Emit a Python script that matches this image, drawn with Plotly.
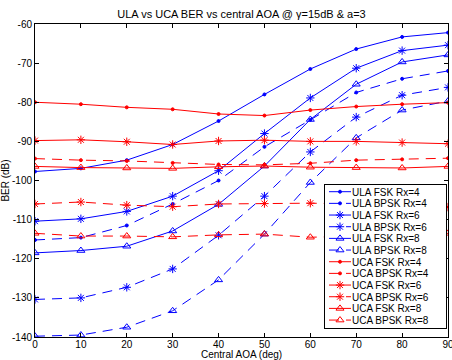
import plotly.graph_objects as go

# Central AOA (deg)
aoa = [0, 10, 20, 30, 40, 50, 60, 70, 80, 90]
x_tick_labels = ["0", "10", "20", "30", "40", "50", "60", "70", "80", "90"]
y_ticks = [-140, -130, -120, -110, -100, -90, -80, -70, -60]
y_tick_labels = ["-140", "-130", "-120", "-110", "-100", "-90", "-80", "-70", "-60"]

# BER (dB) per series
ula_fsk_rx4 = [-97.7, -96.9, -94.8, -90.8, -84.8, -78.0, -71.5, -66.4, -63.3, -62.2]
ula_bpsk_rx4 = [-115.2, -114.6, -111.5, -106.0, -100.0, -91.4, -84.5, -77.5, -74.0, -72.0]
ula_fsk_rx6 = [-110.4, -109.8, -107.9, -104.0, -97.5, -88.0, -78.9, -71.3, -66.8, -65.4]
ula_bpsk_rx6 = [-130.4, -130.0, -127.3, -122.6, -114.0, -104.0, -92.7, -83.8, -78.2, -76.2]
ula_fsk_rx8 = [-118.5, -117.9, -116.8, -112.9, -106.1, -96.3, -84.4, -75.4, -69.7, -67.9]
ula_bpsk_rx8 = [-139.8, -139.5, -137.5, -133.3, -125.4, -113.7, -100.5, -89.1, -82.0, -79.7]
uca_fsk_rx4 = [-80.0, -80.5, -81.3, -81.8, -83.0, -83.4, -82.0, -81.1, -80.5, -80.1]
uca_bpsk_rx4 = [-94.4, -94.8, -95.0, -95.5, -95.9, -96.0, -95.6, -94.8, -94.6, -94.3]
uca_fsk_rx6 = [-89.8, -89.6, -90.1, -90.8, -89.9, -89.7, -90.0, -90.0, -90.3, -90.6]
uca_bpsk_rx6 = [-106.0, -105.5, -106.3, -106.7, -106.0, -105.9, -105.8, -106.0, -106.3, -106.8]
uca_fsk_rx8 = [-96.4, -96.7, -96.8, -96.9, -96.5, -96.3, -96.6, -96.7, -96.8, -96.4]
uca_bpsk_rx8 = [-113.5, -114.2, -114.2, -114.4, -113.9, -113.7, -114.5, -114.2, -114.0, -113.5]

series_names = ["ULA FSK Rx=4", "ULA BPSK Rx=4", "ULA FSK Rx=6", "ULA BPSK Rx=6",
                "ULA FSK Rx=8", "ULA BPSK Rx=8", "UCA FSK Rx=4", "UCA BPSK Rx=4",
                "UCA FSK Rx=6", "UCA BPSK Rx=6", "UCA FSK Rx=8", "UCA BPSK Rx=8"]
series_values = [ula_fsk_rx4, ula_bpsk_rx4, ula_fsk_rx6, ula_bpsk_rx6, ula_fsk_rx8, ula_bpsk_rx8,
                 uca_fsk_rx4, uca_bpsk_rx4, uca_fsk_rx6, uca_bpsk_rx6, uca_fsk_rx8, uca_bpsk_rx8]

BLUE = "#0000ff"
RED = "#ff0000"
symbols = {4: ("circle", 3), 6: ("asterisk-open", 7), 8: ("triangle-up-open", 7)}

fig = go.Figure()
for name, vals in zip(series_names, series_values):
    color = BLUE if name.startswith("ULA") else RED
    dash = "10px,7px" if "BPSK" in name else "solid"
    rx = int(name.split("=")[1])
    sym, size = symbols[rx]
    fig.add_trace(go.Scatter(
        x=aoa, y=vals, name=name, mode="lines+markers",
        line=dict(color=color, width=1, dash=dash),
        marker=dict(symbol=sym, size=size, color=color, line=dict(color=color, width=1)),
    ))

axis_common = dict(
    showline=True, linecolor="black", linewidth=1, mirror="ticks",
    ticks="inside", ticklen=4, tickwidth=1, tickcolor="black",
    showgrid=False, zeroline=False, automargin=True,
    tickfont=dict(size=10, color="black"), ticklabeloverflow="allow",
)

fig.update_layout(
    width=452, height=360,
    margin=dict(l=35, r=4, t=24, b=23, autoexpand=False),
    paper_bgcolor="white", plot_bgcolor="white",
    font=dict(family="Liberation Sans, Arial, sans-serif", size=10, color="black"),
    title=dict(text="ULA vs UCA BER vs central AOA @ γ=15dB & a=3",
               x=0.5, xref="paper", xanchor="center",
               y=1 - 14 / 360, yref="container", yanchor="middle",
               font=dict(size=11, color="black")),
    xaxis=dict(range=[0, 90], tickmode="array", tickvals=aoa, ticktext=x_tick_labels,
               ticklabelstandoff=-2, **axis_common),
    yaxis=dict(range=[-140, -60], tickmode="array", tickvals=y_ticks, ticktext=y_tick_labels,
               title=dict(text="BER (dB)", standoff=3, font=dict(size=10)),
               **axis_common),
    showlegend=True,
    legend=dict(x=(324 - 35) / 413, xanchor="left", y=(337 - 184) / 313, yanchor="top",
                bgcolor="white", bordercolor="black", borderwidth=1,
                font=dict(size=10, color="black"), tracegroupgap=0),
    annotations=[dict(text="Central AOA (deg)", xref="paper", yref="paper",
                      x=0.5, y=-(354.5 - 337) / 313, xanchor="center", yanchor="middle",
                      showarrow=False, font=dict(size=10, color="black"))],
)

post = """
var gd = document.getElementById('{plot_id}');
function fixLegend(){
  var leg = gd.querySelector('g.legend');
  if (!leg) return;
  var step = 11.67, top = 7.7;
  var items = leg.querySelectorAll('g.traces');
  items.forEach(function(g, i){
    g.setAttribute('transform', 'translate(1,' + (top + i*step) + ')');
    var t = g.querySelector('text.legendtext'); if (t) t.setAttribute('x', 27);
    g.querySelectorAll('path.js-line').forEach(function(p){ p.setAttribute('d','M4,0h22'); });
    g.querySelectorAll('path.scatterpts').forEach(function(p){ p.setAttribute('transform','translate(15,0)'); });
  });
  var h = top*2 + (items.length-1)*step;
  leg.querySelectorAll('rect.bg').forEach(function(r){ r.setAttribute('height', h); r.setAttribute('width', 122); });
  var sb = leg.querySelector('g.scrollbox'); if (sb) sb.removeAttribute('clip-path');
}
fixLegend();
"""

fig.write_html("out.html", post_script=post)
